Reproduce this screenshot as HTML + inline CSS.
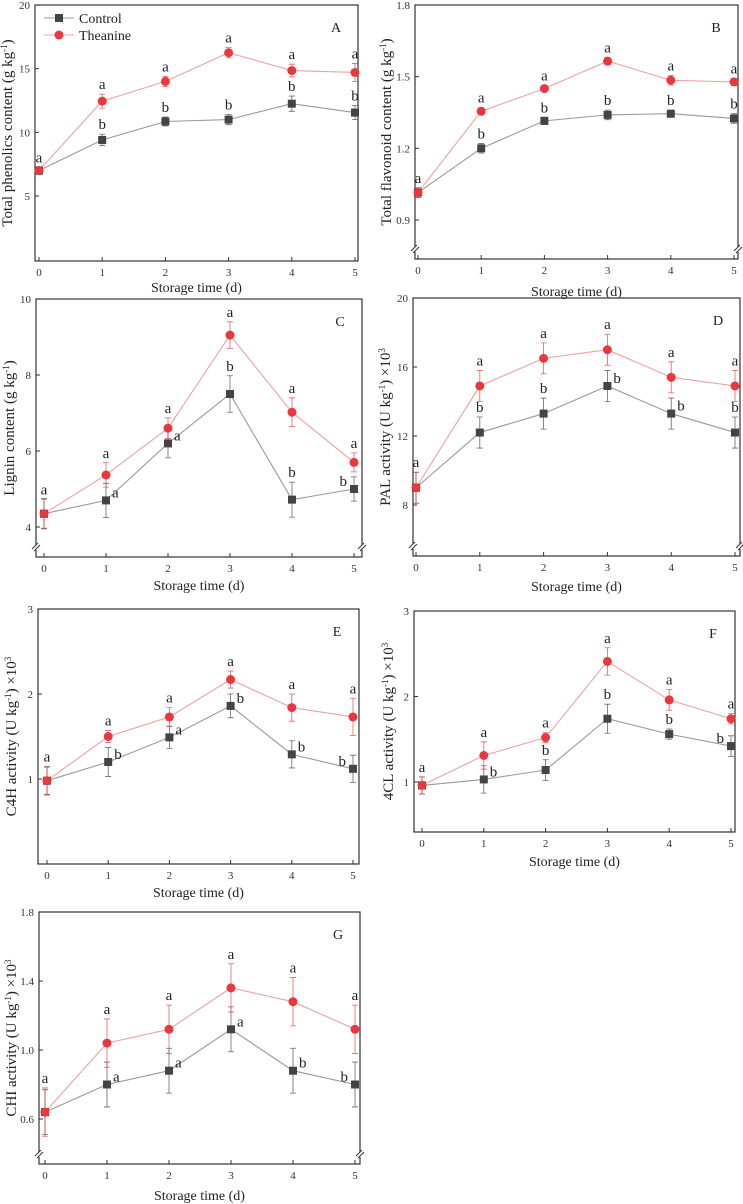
<!DOCTYPE html>
<html><head><meta charset="utf-8"><style>
html,body{margin:0;padding:0;background:#fff}
svg{display:block;font-family:"Liberation Serif",serif}
</style></head><body>
<svg id="fig" width="743" height="1204" viewBox="0 0 743 1204" xmlns="http://www.w3.org/2000/svg"></svg>
<script>
const days=[0,1,2,3,4,5];
const aCtrl=[7.0,9.4,10.85,11.0,12.25,11.55], aCtrlErr=[0.3,0.45,0.35,0.4,0.6,0.55];
const aThea=[7.0,12.45,14.0,16.25,14.85,14.7], aTheaErr=[0.25,0.55,0.4,0.4,0.5,0.7];
const bCtrl=[1.015,1.2,1.315,1.34,1.345,1.325], bCtrlErr=[0.02,0.02,0.015,0.02,0.015,0.02];
const bThea=[1.015,1.355,1.45,1.565,1.485,1.478], bTheaErr=[0.02,0.015,0.012,0.015,0.02,0.015];
const cCtrl=[4.35,4.7,6.2,7.5,4.72,5.0], cCtrlErr=[0.4,0.45,0.38,0.48,0.46,0.32];
const cThea=[4.35,5.37,6.6,9.05,7.02,5.7], cTheaErr=[0.38,0.32,0.27,0.35,0.38,0.25];
const dCtrl=[9.0,12.2,13.3,14.9,13.3,12.2], dCtrlErr=[0.9,0.9,0.9,0.9,0.9,0.9];
const dThea=[9.0,14.9,16.5,17.0,15.4,14.9], dTheaErr=[0.9,0.9,0.9,0.9,0.9,0.9];
const eCtrl=[0.98,1.2,1.49,1.86,1.29,1.12], eCtrlErr=[0.16,0.17,0.13,0.14,0.16,0.16];
const eThea=[0.98,1.5,1.73,2.17,1.84,1.73], eTheaErr=[0.17,0.07,0.11,0.1,0.16,0.22];
const fCtrl=[0.96,1.03,1.14,1.74,1.56,1.42], fCtrlErr=[0.1,0.16,0.12,0.17,0.06,0.12];
const fThea=[0.96,1.31,1.52,2.41,1.96,1.74], fTheaErr=[0.1,0.16,0.06,0.16,0.12,0.06];
const gCtrl=[0.64,0.80,0.88,1.12,0.88,0.80], gCtrlErr=[0.13,0.13,0.13,0.13,0.13,0.13];
const gThea=[0.64,1.04,1.12,1.36,1.28,1.12], gTheaErr=[0.14,0.14,0.14,0.14,0.14,0.14];
const aTicks=[5,10,15,20], bTicks=[0.9,1.2,1.5,1.8], cTicks=[4,6,8,10], dTicks=[8,12,16,20];
const eTicks=[1,2,3], fTicks=[1,2,3], gTicks=[0.6,1.0,1.4,1.8];
const aTickLbl=["5","10","15","20"], bTickLbl=["0.9","1.2","1.5","1.8"], cTickLbl=["4","6","8","10"], dTickLbl=["8","12","16","20"];
const eTickLbl=["1","2","3"], fTickLbl=["1","2","3"], gTickLbl=["0.6","1.0","1.4","1.8"];
// letters: [control letters, control positions(u/r/l), theanine letters]
const aCL=["a","b","b","b","b","b"], aCP=["n","u","u","u","u","u"], aTL=["a","a","a","a","a","a"];
const bCL=["a","b","b","b","b","b"], bCP=["n","u","u","u","u","u"], bTL=["a","a","a","a","a","a"];
const cCL=["a","a","a","b","b","b"], cCP=["n","r","r","u","u","l"], cTL=["a","a","a","a","a","a"];
const dCL=["a","b","b","b","b","b"], dCP=["n","u","u","r","r","u"], dTL=["a","a","a","a","a","a"];
const eCL=["a","b","a","b","b","b"], eCP=["n","r","r","r","r","l"], eTL=["a","a","a","a","a","a"];
const fCL=["a","b","b","b","b","b"], fCP=["n","r","u","u","u","l"], fTL=["a","a","a","a","a","a"];
const gCL=["a","a","a","a","b","b"], gCP=["n","r","r","r","r","l"], gTL=["a","a","a","a","a","a"];

const svg=document.getElementById('fig');
const NS='http://www.w3.org/2000/svg';
function mk(tag,attrs,parent,text){const e=document.createElementNS(NS,tag);for(const k in attrs)e.setAttribute(k,attrs[k]);if(text!==undefined)e.textContent=text;(parent||svg).appendChild(e);return e;}

function panel(p){
  const g=mk('g',{});
  
  
  const yS=v=>p.yTop+(p.vTop-v)/(p.vTop-p.vRef)*(p.yRef-p.yTop);
  const xS=d=>p.x0+(p.x5-p.x0)*d/5;
  const frame=mk('rect',{x:p.L,y:p.yTop,width:p.R-p.L,height:p.B-p.yTop,fill:'none',stroke:'#333','stroke-width':1.2},g);
  
  
  if(p.brk){
    [p.L,p.R].forEach(x=>{
      mk('rect',{x:x-4,y:p.B-12,width:8,height:5,fill:'#fff'},g);
      mk('line',{x1:x-4,y1:p.B-8,x2:x+2,y2:p.B-14,stroke:'#333','stroke-width':1},g);
      mk('line',{x1:x-2,y1:p.B-6,x2:x+4,y2:p.B-12,stroke:'#333','stroke-width':1},g);
    });
  }
  p.ticks.forEach((t,i)=>{
    const y=yS(t);
    mk('line',{x1:p.L,y1:y,x2:p.L+4,y2:y,stroke:'#333'},g);
    const tl=mk('text',{x:p.L-5,y:y+4,'text-anchor':'end','font-size':11,fill:'#333'},g,p.tickLbl[i]);
    
    
  });
  days.forEach(d=>{
    const x=xS(d);
    mk('line',{x1:x,y1:p.B,x2:x,y2:p.B-4,stroke:'#333'},g);
    const tl=mk('text',{x:x,y:p.B+15,'text-anchor':'middle','font-size':11,fill:'#333'},g,String(d));
    
    
  });
  const xt=mk('text',{x:(p.L+p.R)/2,y:p.xtY,'text-anchor':'middle','font-size':14,fill:'#222'},g,'Storage time (d)');
  
  
  const yt=mk('text',{x:0,y:0,'text-anchor':'middle','font-size':15,fill:'#222',transform:`translate(${p.ytX},${(p.yTop+p.B)/2}) rotate(-90)`},g);
  
  
  yt.innerHTML=p.yTitle;
  const pl=mk('text',{x:p.R-22,y:p.yTop+27,'text-anchor':'middle','font-size':14,fill:'#222'},g,p.id);
  
  
  // series
  const series=[{v:p.ctrl,e:p.ctrlE,lc:'#9a9a9a',mc:'#444',sq:true,name:'control'},{v:p.thea,e:p.theaE,lc:'#f2a0a2',mc:'#e8383d',sq:false,name:'theanine'}];
  series.forEach(s=>{
    const line=mk('polyline',{points:days.map(d=>xS(d)+','+yS(s.v[d])).join(' '),fill:'none',stroke:s.lc,'stroke-width':1.1},g);
    
    
    days.forEach(d=>{
      const x=xS(d),y1=yS(s.v[d]+s.e[d]),y2=yS(s.v[d]-s.e[d]);
      const eb=mk('path',{d:`M${x},${y1}V${y2}M${x-3},${y1}H${x+3}M${x-3},${y2}H${x+3}`,stroke:s.mc,'stroke-width':0.8,fill:'none',opacity:0.8},g);
      
      
    });
  });
  series.forEach(s=>{
    days.forEach(d=>{
      const x=xS(d),y=yS(s.v[d]);
      let m;
      if(s.sq) m=mk('rect',{x:x-4,y:y-4,width:8,height:8,fill:s.mc},g);
      else m=mk('circle',{cx:x,cy:y,r:4.5,fill:s.mc},g);
      
      
    });
  });
  days.forEach(d=>{
    const x=xS(d);
    const t=mk('text',{x:x,y:yS(p.thea[d]+p.theaE[d])-5,'text-anchor':'middle','font-size':15,fill:'#222'},g,p.tl[d]);
    
    
    const pos=p.cp[d];
    if(pos==='n') return;
    let tx=x,ty,anc='middle';
    if(pos==='u'){ty=yS(p.ctrl[d]+p.ctrlE[d])-5;}
    else if(pos==='r'){tx=x+6;ty=yS(p.ctrl[d])-3;anc='start';}
    else {tx=x-7;ty=yS(p.ctrl[d])-3;anc='end';}
    const c=mk('text',{x:tx,y:ty,'text-anchor':anc,'font-size':15,fill:'#222'},g,p.cl[d]);
    
    
  });
  return g;
}
const sup='<tspan dy="-5" font-size="9">-1</tspan><tspan dy="5">)</tspan>';
const supE='<tspan dy="-5" font-size="9">-1</tspan><tspan dy="5">) ×10</tspan><tspan dy="-5" font-size="9">3</tspan>';
panel({id:'A',L:35,R:358,yTop:5,B:261,vTop:20,vRef:5,yRef:196,x0:39,x5:355,ticks:aTicks,tickLbl:aTickLbl,ctrl:aCtrl,ctrlE:aCtrlErr,thea:aThea,theaE:aTheaErr,cl:aCL,cp:aCP,tl:aTL,xtY:292,ytX:12,yTitle:'Total phenolics content (g kg'+sup,brk:false});
panel({id:'B',L:415,R:738,yTop:5,B:259,vTop:1.8,vRef:0.9,yRef:220,x0:418,x5:734,ticks:bTicks,tickLbl:bTickLbl,ctrl:bCtrl,ctrlE:bCtrlErr,thea:bThea,theaE:bTheaErr,cl:bCL,cp:bCP,tl:bTL,xtY:296,ytX:391,yTitle:'Total flavonoid content (g kg'+sup,brk:true});
panel({id:'C',L:36,R:362,yTop:299,B:557,vTop:10,vRef:4,yRef:527,x0:44,x5:354,ticks:cTicks,tickLbl:cTickLbl,ctrl:cCtrl,ctrlE:cCtrlErr,thea:cThea,theaE:cTheaErr,cl:cCL,cp:cCP,tl:cTL,xtY:590,ytX:14,yTitle:'Lignin content (g kg'+sup,brk:true});
panel({id:'D',L:413,R:740,yTop:298,B:556,vTop:20,vRef:8,yRef:505,x0:416,x5:735,ticks:dTicks,tickLbl:dTickLbl,ctrl:dCtrl,ctrlE:dCtrlErr,thea:dThea,theaE:dTheaErr,cl:dCL,cp:dCP,tl:dTL,xtY:591,ytX:390,yTitle:'PAL activity (U kg'+supE,brk:true});
panel({id:'E',L:38,R:359,yTop:609,B:864,vTop:3,vRef:1,yRef:779,x0:47,x5:353,ticks:eTicks,tickLbl:eTickLbl,ctrl:eCtrl,ctrlE:eCtrlErr,thea:eThea,theaE:eTheaErr,cl:eCL,cp:eCP,tl:eTL,xtY:897,ytX:16,yTitle:'C4H activity (U kg'+supE,brk:false});
panel({id:'F',L:414,R:735,yTop:611,B:832,vTop:3,vRef:1,yRef:782,x0:422,x5:731,ticks:fTicks,tickLbl:fTickLbl,ctrl:fCtrl,ctrlE:fCtrlErr,thea:fThea,theaE:fTheaErr,cl:fCL,cp:fCP,tl:fTL,xtY:866,ytX:393,yTitle:'4CL activity (U kg'+supE,brk:false});
panel({id:'G',L:39,R:360,yTop:912,B:1164,vTop:1.8,vRef:0.6,yRef:1119,x0:45,x5:355,ticks:gTicks,tickLbl:gTickLbl,ctrl:gCtrl,ctrlE:gCtrlErr,thea:gThea,theaE:gTheaErr,cl:gCL,cp:gCP,tl:gTL,xtY:1200,ytX:16,yTitle:'CHI activity (U kg'+supE,brk:true});
// legend in panel A
const lg=mk('g',{});


mk('line',{x1:44,y1:18,x2:74,y2:18,stroke:'#9a9a9a'},lg);
mk('rect',{x:55,y:14,width:8,height:8,fill:'#444'},lg);
const l1=mk('text',{x:79,y:23,'font-size':14,fill:'#222'},lg,'Control');


mk('line',{x1:44,y1:35,x2:74,y2:35,stroke:'#f2a0a2'},lg);
mk('circle',{cx:59,cy:35,r:4.5,fill:'#e8383d'},lg);
const l2=mk('text',{x:79,y:40,'font-size':14,fill:'#222'},lg,'Theanine');


</script>
</body></html>
